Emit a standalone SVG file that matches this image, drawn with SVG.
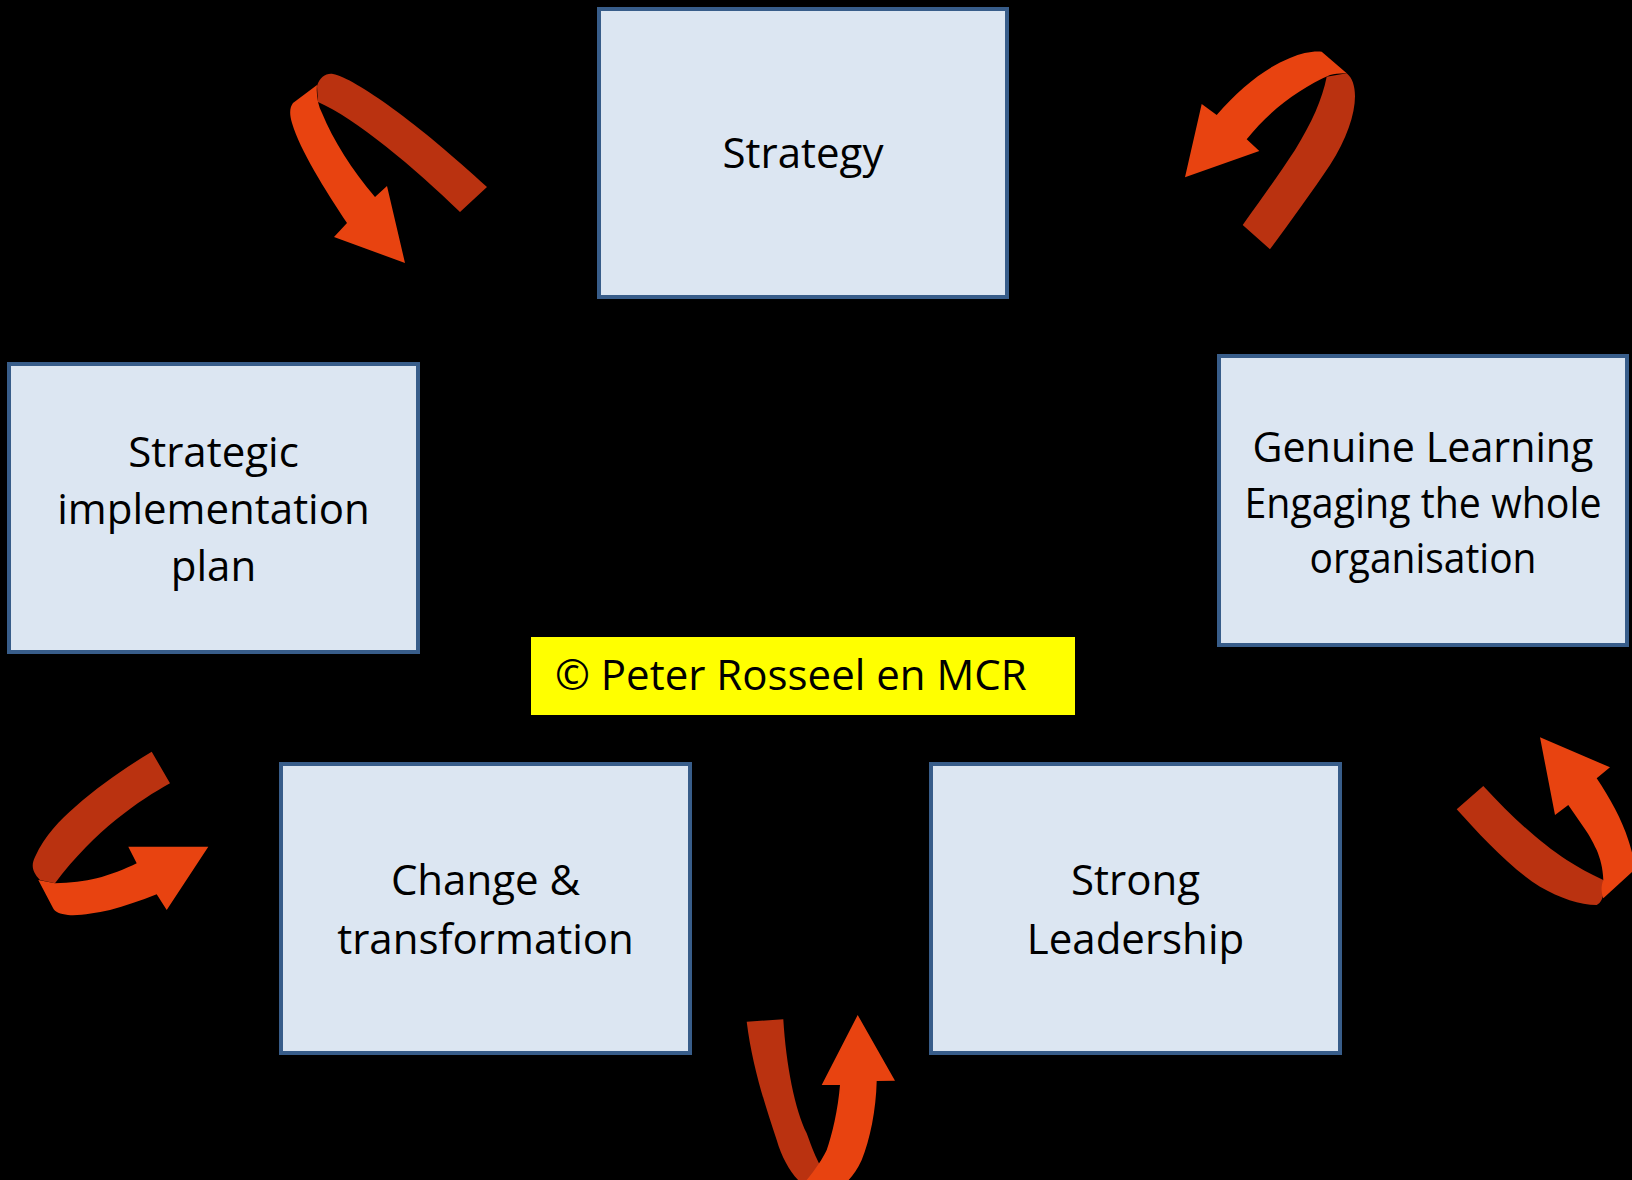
<svg xmlns="http://www.w3.org/2000/svg" width="1632" height="1180" viewBox="0 0 1632 1180">
<style>
.box{fill:#dce6f2;stroke:#385d8a;stroke-width:4}
.lbl{font-family:"Open Sans","Liberation Sans",sans-serif;font-size:42px;fill:#000;text-anchor:middle}
.front{fill:#e84310}
.back{fill:#ba3210}
</style>
<rect x="0" y="0" width="1632" height="1180" fill="#000"/>
<g id="connectors">
  <g id="arrow-tl">
    <path class="back" d="M317,86 C320,77 326,73 333,74 C355,78 420,125 487,187 L460,212 C415,168 355,118 318,102 Z"/>
    <path class="front" d="M293,103 L317,85 C316,95 318,105 322,113 C333,140 352,170 375,197 L387,186 L405,263 L334,237 L347,223 C325,190 300,150 292,123 C289,113 290,107 293,103 Z"/>
  </g>
  <g id="arrow-tr">
    <path class="back" d="M1326.7,76.7 L1346.7,73.3 C1362,86 1356,125 1330,165 C1312,192 1290,222 1270,249.3 L1242.7,225 C1262,198 1280,173 1295,150 C1312,122 1322,100 1326.7,76.7 Z"/>
    <path class="front" d="M1321.7,51.7 L1346.7,73.3 C1340,73 1335,74 1330,75 C1300,88 1270,110 1246.7,139.3 L1259.3,151 L1185,177.3 L1201.7,104 L1216.7,115 C1240,88 1265,68 1290,58 C1302,53 1312,51 1321.7,51.7 Z"/>
  </g>
  <g id="arrow-bl">
    <path class="back" d="M151.7,751.7 L170,783.3 C140,800 95,830 55,883.3 L40,880 C32,872 31,865 35,857 C45,835 60,820 75,807 C100,785 125,768 151.7,751.7 Z"/>
    <path class="front" d="M38.3,880 L55,883.3 C70,883 85,881 96.7,878.3 C110,875 125,869 136.7,863.3 L128.3,846.7 L208.3,846.7 L166.7,910 L156.7,894.3 C140,901 125,906 110,910 C95,913 80,916 68,915 C60,914 55,912 53,908 Z"/>
  </g>
  <g id="arrow-br">
    <path class="back" d="M1483.3,786 L1456.7,809.3 C1480,835 1510,868 1540,886.7 C1560,898 1580,905 1596.7,905 C1601,903 1603,898 1603.3,893.3 L1603.3,880 C1590,874 1578,867 1566.7,860 C1540,843 1510,815 1483.3,786 Z"/>
    <path class="front" d="M1603.3,880 C1603,868 1600,858 1596.7,850 C1592,840 1588,833 1583.3,826.7 L1568.3,805 L1555,815 L1540,737.3 L1610,767.3 L1596.7,778.3 C1610,798 1622,820 1628.3,840 C1633,855 1636,865 1632,872 L1603.3,898.3 C1601,892 1601,886 1603.3,880 Z"/>
  </g>
  <g id="arrow-b">
    <path class="back" d="M746.7,1021.7 L783.3,1019.3 C786,1065 795,1110 806.7,1133.3 C812,1148 816,1158 820,1165 L812,1182 L800,1182 C790,1172 782,1158 776.7,1140 C765,1105 752,1065 746.7,1021.7 Z"/>
    <path class="front" d="M805,1182 C815,1170 822,1160 826.7,1150 C832,1135 838,1110 840,1085 L821.7,1085 L857.7,1015 L895,1080.7 L876.7,1081 C876,1110 870,1140 861.7,1160 C857,1170 852,1177 846.7,1182 Z"/>
  </g>
</g>
<g id="node-strategy">
  <rect class="box" x="599" y="9" width="408" height="288"/>
  <text class="lbl" x="803" y="168">Strategy</text>
</g>
<g id="node-implementation">
  <rect class="box" x="9" y="364" width="409" height="288"/>
  <text class="lbl" x="213.5" y="467">Strategic</text>
  <text class="lbl" x="213.5" y="524">implementation</text>
  <text class="lbl" x="213.5" y="581">plan</text>
</g>
<g id="node-learning">
  <rect class="box" x="1219" y="356" width="408" height="289"/>
  <text class="lbl" x="1423" y="462" textLength="341" lengthAdjust="spacingAndGlyphs">Genuine Learning</text>
  <text class="lbl" x="1423" y="518" textLength="357" lengthAdjust="spacingAndGlyphs">Engaging the whole</text>
  <text class="lbl" x="1423" y="573" textLength="227" lengthAdjust="spacingAndGlyphs">organisation</text>
</g>
<g id="node-change">
  <rect class="box" x="281" y="764" width="409" height="289"/>
  <text class="lbl" x="485.5" y="895">Change &amp;</text>
  <text class="lbl" x="485.5" y="954">transformation</text>
</g>
<g id="node-leadership">
  <rect class="box" x="931" y="764" width="409" height="289"/>
  <text class="lbl" x="1135.5" y="895">Strong</text>
  <text class="lbl" x="1135.5" y="954">Leadership</text>
</g>
<g id="copyright">
  <rect x="531" y="637" width="544" height="78" fill="#ffff00"/>
  <text class="lbl" x="555" y="690" style="text-anchor:start">© Peter Rosseel en MCR</text>
</g>
</svg>
